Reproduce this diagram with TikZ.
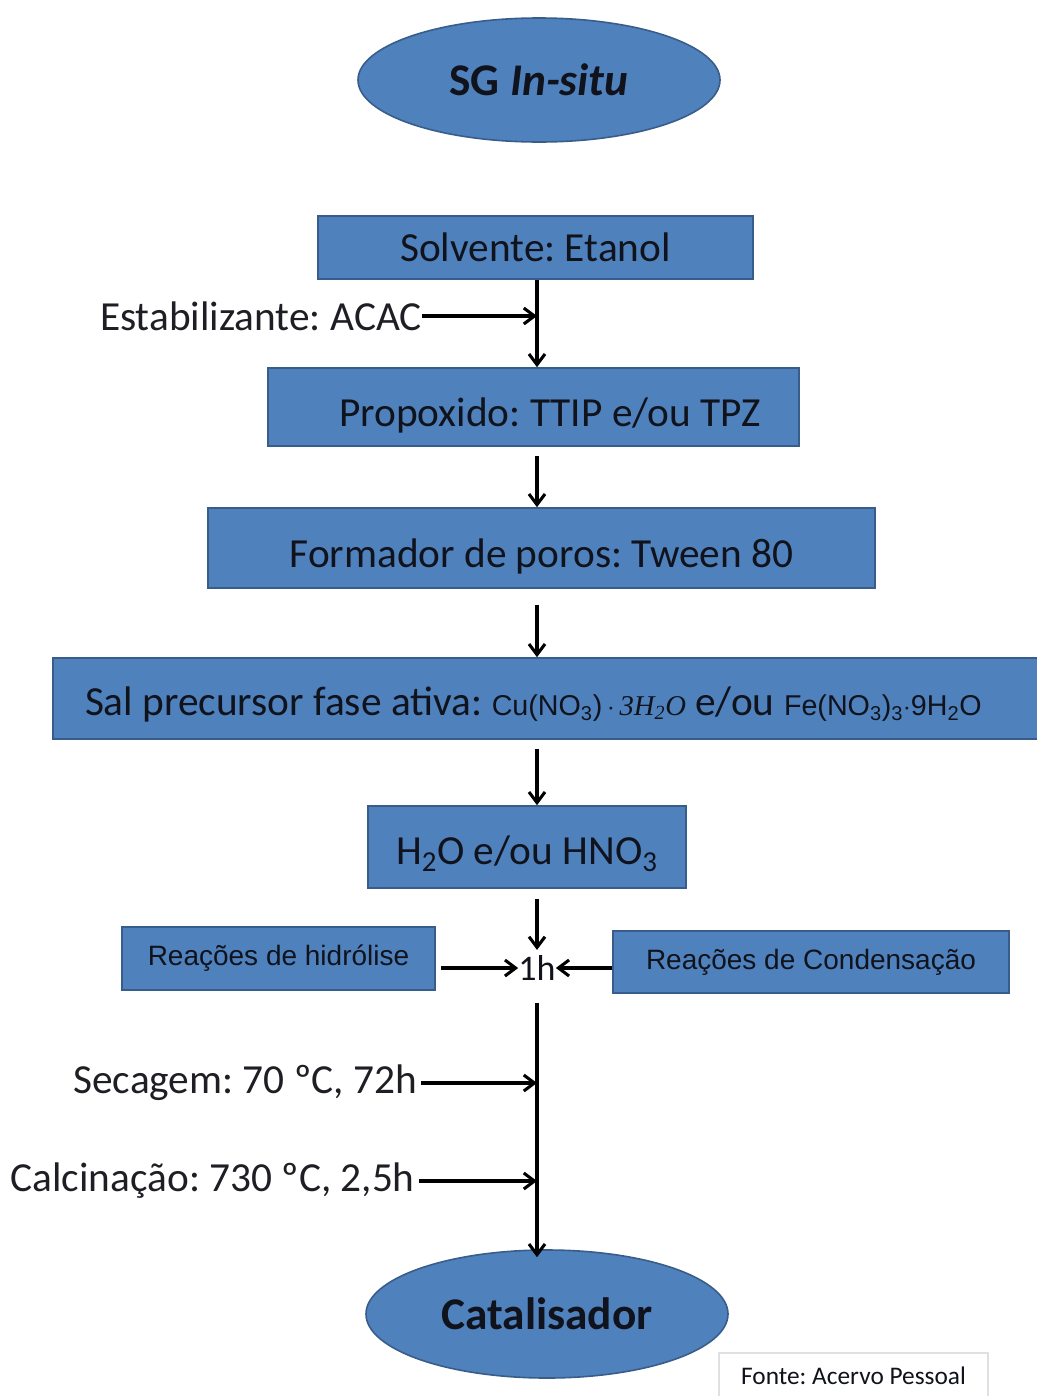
\documentclass[tikz,border=0pt]{standalone}
\usepackage{fontspec}
\setmainfont{Carlito}
\newfontfamily\arialf{Liberation Sans}
\newfontfamily\timesf{Liberation Serif}
\usetikzlibrary{arrows.meta,shapes.geometric}
\definecolor{boxfill}{HTML}{4F81BD}
\definecolor{boxline}{HTML}{385D8A}
\definecolor{txt}{HTML}{10131C}
\definecolor{gtxt}{HTML}{1E1E24}
\frenchspacing
\newcommand\lowr[2]{\raisebox{-#1}[\height][\depth]{#2}}
\begin{document}
\begin{tikzpicture}[x=0.75pt,y=-0.75pt,
  box/.style={draw=boxline,fill=boxfill,line width=1.2pt,inner sep=0pt,text=txt},
  oval/.style={ellipse,draw=boxline,fill=boxfill,line width=1.2pt,inner sep=0pt,text=txt},
  arr/.style={line width=2.3pt,-{Straight Barb[length=8pt,width=12pt]}},
  big/.style={font=\fontsize{31}{36}\selectfont},
  lbl/.style={text=gtxt,inner sep=0pt,big},
  small/.style={font=\arialf\fontsize{21}{25}\selectfont},
  chem/.style={}]
\useasboundingbox (0,0) rectangle (1036,1396);
\coordinate (ax) at (537,0);
\node[oval,minimum width=271.5pt,minimum height=93pt,font=\fontsize{34}{40}\selectfont\bfseries] (start) at (539,80) {SG \textit{In-situ}};
\node[box,big,minimum width=326.25pt,minimum height=47.25pt] (solv) at (535.5,247.5) {Solvente: Etanol};
\node[lbl,anchor=east] (estab) at (422,316) {Estabilizante: ACAC};
\node[box,big,minimum width=398.25pt,minimum height=58.5pt] (prop) at (533.5,407) {\lowr{6pt}{\hspace*{25pt}Propoxido: TTIP e/ou TPZ}};
\node[box,big,minimum width=500.25pt,minimum height=60pt] (form) at (541.5,548) {\lowr{6.5pt}{Formador de poros: Tween 80}};
\node[box,big,minimum width=747.75pt,minimum height=60.75pt] (sal) at (551.5,698.5) {\lowr{4.5pt}{\makebox[699.75pt][l]{Sal precursor fase ativa: {\arialf\fontsize{21.5}{25}\selectfont Cu(NO\textsubscript{3})\,$\cdot$\,{\timesf\itshape 3H\textsubscript{2}O}} e/ou {\arialf\fontsize{21.5}{25}\selectfont Fe(NO\textsubscript{3})\textsubscript{3}$\cdot$9H\textsubscript{2}O}}}};
\node[box,big,minimum width=238.5pt,minimum height=61.5pt] (water) at (527,847) {\lowr{5pt}{H\textsubscript{2}O e/ou HNO\textsubscript{3}}};
\node[lbl,text=txt,font=\fontsize{27}{32}\selectfont] (oneh) at (537,968) {1h};
\node[box,small,minimum width=234.75pt,minimum height=47.25pt] (hyd) at (278.5,958.5) {Reações de hidrólise};
\node[box,small,minimum width=297pt,minimum height=46.5pt] (cond) at (811,962) {Reações de Condensação};
\node[lbl,anchor=east] (sec) at (417,1083) {Secagem: 70 ºC, 72h};
\node[lbl,anchor=east] (calc) at (415,1181) {Calcinação: 730 ºC, 2,5h};
\node[oval,minimum width=271.5pt,minimum height=96pt,font=\fontsize{34}{40}\selectfont\bfseries] (cat) at (547,1314) {Catalisador};
\node[draw=black!12,fill=white,line width=0.8pt,minimum width=201.75pt,minimum height=34.5pt,font=\fontsize{19}{22}\selectfont,text=txt] (fonte) at (853.5,1376) {Fonte: Acervo Pessoal};
% connectors
\draw[arr] (solv.south -| ax) -- (prop.north -| ax);
\draw[arr] (estab.east) -- (estab.east -| ax);
\draw[arr,shorten <=6.75pt] (prop.south -| ax) -- (form.north -| ax);
\draw[arr,shorten <=12pt] (form.south -| ax) -- (sal.north -| ax);
\draw[arr,shorten <=6.75pt] (sal.south -| ax) -- (water.north -| ax);
\draw[arr,shorten <=7.5pt,shorten >=4pt] (water.south -| ax) -- (oneh.north -| ax);
\draw[arr,shorten <=3.75pt] (oneh.west -| hyd.east) -- (oneh.west);
\draw[arr] (oneh.east -| cond.west) -- (oneh.east);
\draw[arr,shorten <=17pt,shorten >=-6pt] (oneh.south -| ax) -- (cat.north -| ax);
\draw[arr,shorten <=3pt] (sec.east) -- (sec.east -| ax);
\draw[arr,shorten <=3pt] (calc.east) -- (calc.east -| ax);
\end{tikzpicture}
\end{document}
